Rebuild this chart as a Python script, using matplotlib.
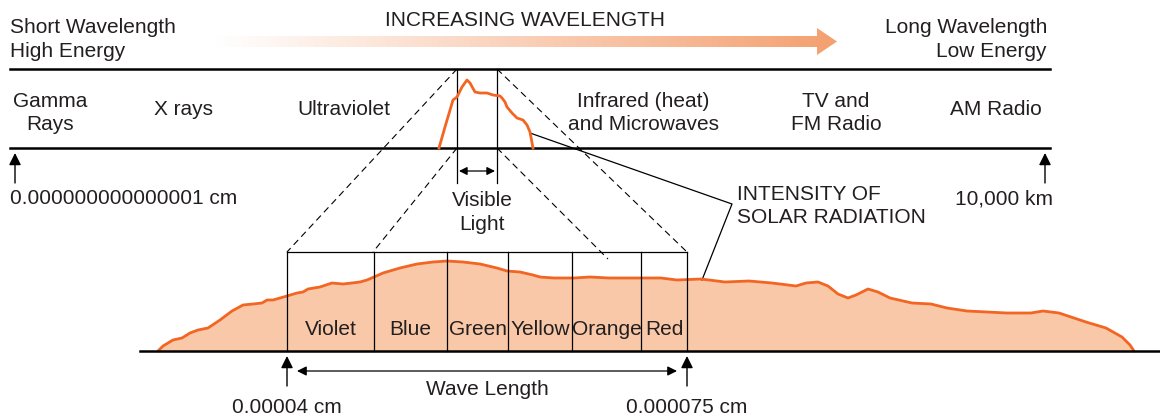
import numpy as np
import matplotlib.pyplot as plt
from matplotlib.patches import Polygon
from matplotlib.colors import LinearSegmentedColormap

# small solar curve in the top band (x, y in pixels)
small_x = [439, 445, 453, 457, 462, 467, 470, 475, 480, 487, 493, 500, 502, 505, 507, 512, 517, 523, 527, 530, 533]
small_y = [148, 127, 100, 97, 87, 80, 83, 92, 93, 93, 95, 96, 98, 102, 107, 113, 118, 120, 125, 132, 148]

# big solar intensity curve
big_x = [158, 163, 173, 182, 190, 198, 208, 220, 232, 243, 253, 262, 267, 273, 280, 287, 297, 303, 308,
         320, 332, 343, 352, 360, 367, 374, 383, 400, 417, 433, 447, 463, 480, 497, 507, 520, 533, 540,
         554, 574, 590, 609, 641, 661, 677, 701, 725, 749, 772, 796, 806, 818, 828, 838, 848, 856, 868,
         878, 890, 912, 931, 947, 967, 1007, 1031, 1043, 1059, 1086, 1106, 1122, 1130, 1134]
big_y = [351, 346, 340, 338, 333, 330, 328, 320, 311, 305, 304, 303, 300, 300, 298, 296, 293, 292, 289,
         287, 283, 284, 283, 282, 280, 277, 273, 268, 264, 262, 261, 262, 264, 268, 271, 272, 275, 277,
         278, 278, 277, 278, 278, 278, 280, 279, 282, 281, 283, 286, 283, 282, 286, 294, 298, 295, 289,
         292, 298, 303, 304, 308, 311, 313, 313, 311, 313, 322, 328, 337, 345, 351]

bands = ['Gamma\nRays', 'X rays', 'Ultraviolet', 'Infrared (heat)\nand Microwaves', 'TV and\nFM Radio', 'AM Radio']
band_x = [50, 184, 344, 643, 836, 996]

colours = ['Violet', 'Blue', 'Green', 'Yellow', 'Orange', 'Red']
colour_edges = [287, 374, 447, 508, 572, 641, 687]

ORANGE = '#f26522'
FILL = '#f9c8a8'
TXT = '#231f20'
FONT = 'Liberation Sans'
FS = 15

fig = plt.figure(figsize=(11.6, 4.15), dpi=100)
ax = fig.add_axes([0, 0, 1, 1])


def txt(x, y, s, ha='center', va='baseline'):
    ax.text(x, y, s, ha=ha, va=va, fontsize=FS, family=FONT, color=TXT)


def up_arrow(x, y0, y1):
    ax.annotate('', xy=(x, y1), xytext=(x, y0),
                arrowprops=dict(arrowstyle='-|>', color='black', lw=1.0,
                                mutation_scale=18, shrinkA=0, shrinkB=0))


def both_arrow(x0, x1, y, ms):
    ax.annotate('', xy=(x0, y), xytext=(x1, y),
                arrowprops=dict(arrowstyle='<|-|>', color='black', lw=0.9, mutation_scale=ms,
                                shrinkA=0, shrinkB=0))


# header
txt(10, 33, 'Short Wavelength', ha='left')
txt(10, 57, 'High Energy', ha='left')
txt(1047, 33, 'Long Wavelength', ha='right')
txt(1047, 57, 'Low Energy', ha='right')
txt(525, 26, 'INCREASING WAVELENGTH')

# gradient arrow
arrow = Polygon([(215, 36), (817, 36), (817, 28), (837, 41.5), (817, 55), (817, 47), (215, 47)],
                closed=True, facecolor='none', edgecolor='none')
ax.add_patch(arrow)
grad = np.linspace(0, 1, 256).reshape(1, -1)
cmap = LinearSegmentedColormap.from_list('g', ['#ffffff', '#f4a070'])
im = ax.imshow(grad, extent=(215, 837, 55, 28), cmap=cmap, aspect='auto', zorder=1)
im.set_clip_path(arrow)
ax.set_xlim(0, 1160)
ax.set_ylim(415, 0)
ax.axis('off')

# top band
ax.plot([10, 1050], [69, 69], color='black', lw=1.8)
ax.plot([10, 1050], [148, 148], color='black', lw=1.8)
for s, x in zip(bands, band_x):
    if '\n' in s:
        a, b = s.split('\n')
        txt(x, 107, a)
        txt(x, 130, b)
    else:
        txt(x, 115, s)

ax.plot(small_x, small_y, color=ORANGE, lw=2.0, zorder=3, solid_joinstyle='round')
for x in (457, 497):
    ax.plot([x, x], [69, 148], color='black', lw=0.9)
    ax.plot([x, x], [148, 183], color='black', lw=0.9)
both_arrow(459, 495, 171, 12)
txt(482, 206, 'Visible')
txt(482, 230, 'Light')

up_arrow(15, 183, 153)
up_arrow(1045, 183, 153)
txt(10, 204, '0.000000000000001 cm', ha='left')
txt(1004, 204, '10,000 km')

# dashed projection lines
dash = dict(color='black', lw=0.8, linestyle=(0, (6, 4)))
ax.plot([457, 287], [69, 252], **dash)
ax.plot([497, 687], [69, 252], **dash)
ax.plot([457, 373], [148, 252], **dash)
ax.plot([497, 608], [148, 259], **dash)

# intensity pointer
ax.plot([530, 732, 702], [133, 204, 280], color='black', lw=0.9)
txt(737, 200, 'INTENSITY OF', ha='left')
txt(737, 223, 'SOLAR RADIATION', ha='left')

# bottom spectrum
ax.fill_between(big_x, big_y, 351, color=FILL, lw=0, zorder=1)
ax.plot(big_x, big_y, color=ORANGE, lw=2.0, zorder=3, solid_joinstyle='round', solid_capstyle='round')
ax.plot([140, 1160], [351, 351], color='black', lw=1.8, zorder=4)
ax.plot([colour_edges[0], colour_edges[-1]], [252, 252], color='black', lw=0.9)
for x in colour_edges:
    ax.plot([x, x], [252, 351], color='black', lw=0.9, zorder=4)
for i, name in enumerate(colours):
    txt((colour_edges[i] + colour_edges[i + 1]) / 2, 335, name)

up_arrow(287, 386, 356)
up_arrow(687, 386, 356)
both_arrow(297, 677, 371, 14)
txt(487, 395, 'Wave Length')
txt(287, 413, '0.00004 cm')
txt(687, 413, '0.000075 cm')

fig.savefig('out.png', dpi=100)
